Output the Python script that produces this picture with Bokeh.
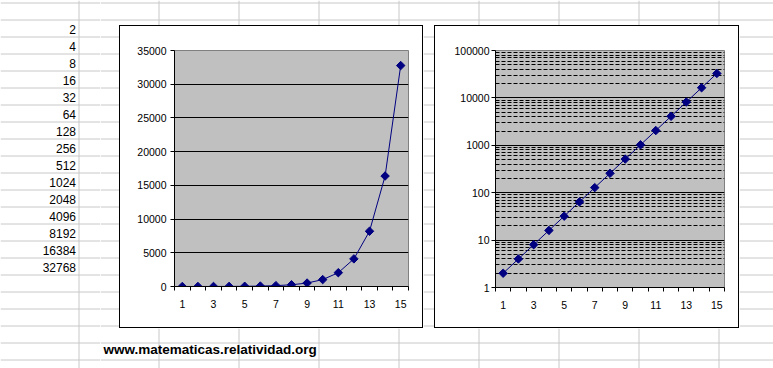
import numpy as np
from bokeh.plotting import figure
from bokeh.layouts import row, column
from bokeh.models import Range1d, FixedTicker, PrintfTickFormatter, Spacer
from bokeh.embed import file_html
from bokeh.resources import INLINE
from bokeh.core.properties import value

# ---------------- data ----------------
exponents = [1, 2, 3, 4, 5, 6, 7, 8, 9, 10, 11, 12, 13, 14, 15]
powers_of_two = [2, 4, 8, 16, 32, 64, 128, 256, 512, 1024, 2048, 4096, 8192, 16384, 32768]
x_label_ticks = [1, 3, 5, 7, 9, 11, 13, 15]
linear_y_ticks = [0, 5000, 10000, 15000, 20000, 25000, 30000, 35000]
log_y_ticks = [1, 10, 100, 1000, 10000, 100000]
site_url = "www.matematicas.relatividad.org"

# ---------------- style ----------------
FONT = "Liberation Sans"
SHEET_LINE = "#c8c8c8"
NAVY = "#000080"
PLOT_GRAY = "#c0c0c0"
COL_EDGES = [78.5 + 80 * i for i in range(9)]
ROW_EDGES = [2.5 + 17 * k for k in range(22)]


def bare(width, height, fill):
    f = figure(width=width, height=height, x_axis_location=None, y_axis_location=None,
               min_border=0, output_backend="svg", toolbar_location=None, title=None)
    f.grid.visible = False
    f.outline_line_color = None
    f.background_fill_color = fill
    f.border_fill_color = fill
    return f


def edge(width, height):
    """1px black edge of a chart object."""
    return Spacer(width=width, height=height,
                  styles={"background-color": "black"})


def sheet(x0, x1, y0, y1):
    """A piece of the spreadsheet background, in page pixel coordinates."""
    f = bare(x1 - x0, y1 - y0, "white")
    f.x_range = Range1d(x0, x1)
    f.y_range = Range1d(y1, y0)
    xs = [c for c in COL_EDGES if x0 < c < x1]
    ys = [r for r in ROW_EDGES if y0 < r < y1]
    if xs:
        f.segment(x0=xs, y0=[y0] * len(xs), x1=xs, y1=[y1] * len(xs),
                  line_color=SHEET_LINE, line_width=1)
    if ys:
        f.segment(x0=[x0] * len(ys), y0=ys, x1=[x1] * len(ys), y1=ys,
                  line_color=SHEET_LINE, line_width=1)
    return f


def chart(log, width, height, left, right, top, bottom, standoff):
    common = dict(width=width, height=height, x_range=Range1d(0.5, 15.5),
                  min_border_left=left, min_border_right=right,
                  min_border_top=top, min_border_bottom=bottom,
                  output_backend="svg", toolbar_location=None, title=None)
    if log:
        p = figure(y_range=Range1d(1, 100000), y_axis_type="log", **common)
        minor = [m * t for t in log_y_ticks[:-1] for m in range(2, 10)]
        yt = FixedTicker(ticks=log_y_ticks, minor_ticks=minor)
    else:
        p = figure(y_range=Range1d(0, 35000), **common)
        yt = FixedTicker(ticks=linear_y_ticks)
    p.yaxis.formatter = PrintfTickFormatter(format="%d")
    p.background_fill_color = PLOT_GRAY
    p.border_fill_color = "white"
    p.outline_line_color = "#808080"

    p.yaxis.ticker = yt
    p.ygrid.ticker = yt
    p.ygrid.grid_line_color = "black"
    p.ygrid.grid_line_width = 1
    if log:
        p.ygrid.minor_grid_line_color = "black"
        p.ygrid.minor_grid_line_dash = "4 2"
    p.xgrid.visible = False

    bounds = [e - 0.5 for e in exponents] + [exponents[-1] + 0.5]
    p.xaxis.ticker = FixedTicker(ticks=x_label_ticks, minor_ticks=bounds)
    p.xaxis.major_tick_out = 0
    p.xaxis.major_tick_in = 0
    p.xaxis.minor_tick_out = 4
    p.xaxis.minor_tick_in = 0
    p.xaxis.minor_tick_line_color = "black"
    p.xaxis.major_label_standoff = 9

    p.yaxis.major_tick_out = 4
    p.yaxis.major_tick_in = 0
    p.yaxis.minor_tick_line_color = None
    p.yaxis.major_label_standoff = standoff

    p.axis.axis_line_color = "black"
    p.axis.major_tick_line_color = "black"
    p.axis.major_label_text_font = FONT
    p.axis.major_label_text_font_size = "10.5px"
    p.axis.major_label_text_color = "black"

    p.line(exponents, powers_of_two, line_color=NAVY, line_width=1)
    p.scatter(exponents, powers_of_two, marker="square", angle=np.pi / 4,
              size=6, fill_color=NAVY, line_color=NAVY)
    return p


def framed(p, width, height):
    """Chart object with a 1px black frame (outer size width x height)."""
    return column(edge(width, 1),
                  row(edge(1, height - 2), p, edge(1, height - 2)),
                  edge(width, 1))


# spreadsheet pieces (page coordinates, 773 x 368)
left_col = sheet(0, 100, 0, 368)
left_col.text(x=[75.5] * len(powers_of_two),
              y=[ROW_EDGES[1] + 9.5 + 17 * i for i in range(len(powers_of_two))],
              text=[str(v) for v in powers_of_two],
              text_align="right", text_baseline="middle",
              text_font=value(FONT), text_font_size="12px", text_color="black")

top = sheet(100, 773, 0, 25)
s1 = sheet(100, 119, 25, 328)
s2 = sheet(423, 434, 25, 328)
s3 = sheet(739, 773, 25, 328)
bottom = sheet(100, 773, 328, 368)
bottom.text(x=[103], y=[348.5], text=[site_url], text_align="left",
            text_baseline="alphabetic", text_font=value(FONT),
            text_font_size="13.5px", text_font_style="bold", text_color="black")

c1 = chart(False, 302, 301, 54, 14, 24, 41, 4)
c2 = chart(True, 303, 301, 60, 14, 24, 40, 2)

layout = row(left_col,
             column(top,
                    row(s1, framed(c1, 304, 303), s2, framed(c2, 305, 303), s3),
                    bottom))

open("out.html", "w").write(file_html(layout, INLINE))
